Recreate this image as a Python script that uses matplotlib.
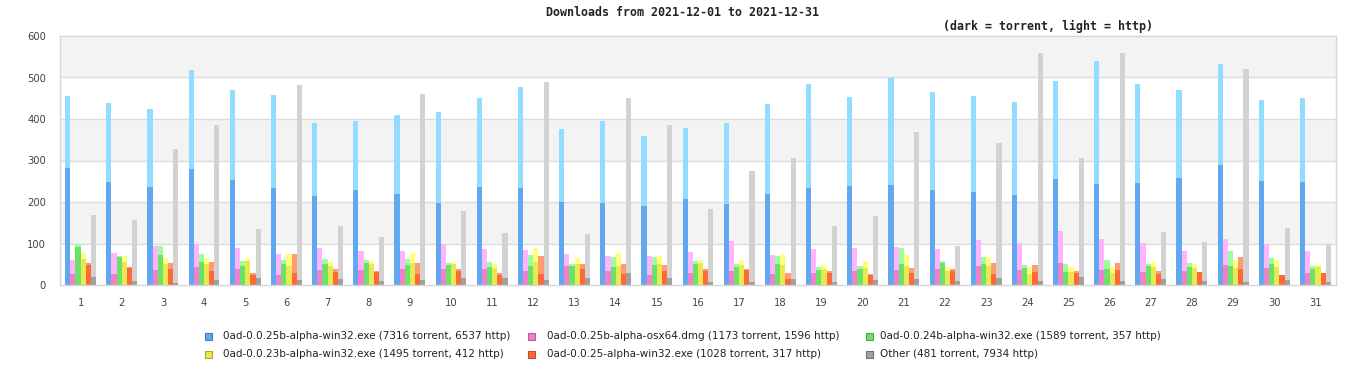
import matplotlib
matplotlib.use("Agg")
import matplotlib.pyplot as plt
from matplotlib.patches import Rectangle
import numpy as np

days = [str(d) for d in range(1, 32)]

series_names = [
    "0ad-0.0.25b-alpha-win32.exe (7316 torrent, 6537 http)",
    "0ad-0.0.25b-alpha-osx64.dmg (1173 torrent, 1596 http)",
    "0ad-0.0.24b-alpha-win32.exe (1589 torrent, 357 http)",
    "0ad-0.0.23b-alpha-win32.exe (1495 torrent, 412 http)",
    "0ad-0.0.25-alpha-win32.exe (1028 torrent, 317 http)",
    "Other (481 torrent, 7934 http)",
]

win25b_torrent = [282, 248, 236, 280, 253, 234, 214, 229, 219, 198, 236, 234, 200, 198, 190, 207,
                  195, 219, 234, 239, 241, 229, 224, 217, 255, 243, 246, 258, 289, 251, 248]
win25b_http = [173, 191, 188, 238, 217, 224, 176, 166, 191, 219, 215, 243, 176, 197, 169, 171,
               195, 217, 250, 214, 258, 236, 231, 224, 237, 297, 238, 212, 244, 195, 203]

osx25b_torrent = [27, 27, 36, 43, 39, 24, 36, 36, 39, 39, 39, 34, 46, 34, 24, 29,
                  34, 27, 29, 34, 36, 39, 46, 36, 53, 36, 31, 34, 48, 41, 29]
osx25b_http = [33, 50, 58, 56, 50, 51, 53, 46, 43, 61, 48, 50, 29, 36, 46, 51,
               72, 45, 58, 55, 56, 48, 62, 65, 77, 75, 70, 48, 63, 58, 53]

win24b_torrent = [92, 68, 72, 55, 46, 51, 51, 53, 48, 48, 43, 46, 46, 43, 48, 51,
                  43, 51, 36, 39, 51, 53, 51, 41, 31, 39, 46, 43, 46, 51, 39]
win24b_http = [8, 2, 22, 20, 12, 9, 12, 7, 15, 5, 12, 26, 5, 24, 19, 7,
               8, 19, 7, 7, 38, 5, 16, 7, 20, 21, 5, 10, 36, 14, 7]

win23b_torrent = [63, 55, 51, 51, 58, 46, 46, 51, 53, 51, 41, 55, 51, 46, 51, 53,
                  48, 48, 39, 41, 46, 34, 46, 27, 31, 29, 43, 41, 41, 43, 43]
win23b_http = [14, 15, 14, 14, 7, 29, 9, 7, 24, 4, 10, 34, 14, 31, 19, 7,
               12, 27, 9, 17, 26, 9, 21, 16, 12, 14, 12, 10, 19, 17, 5]

win25_torrent = [47, 42, 39, 34, 24, 29, 31, 31, 27, 34, 24, 27, 39, 27, 34, 34,
                 36, 14, 29, 24, 29, 34, 27, 31, 29, 36, 27, 31, 39, 24, 29]
win25_http = [6, 1, 14, 21, 5, 46, 8, 3, 26, 5, 5, 43, 12, 24, 14, 5,
              3, 15, 5, 3, 12, 5, 26, 17, 5, 17, 7, 0, 28, 0, 0]

other_torrent = [19, 10, 5, 12, 17, 12, 14, 10, 12, 17, 17, 12, 17, 29, 17, 7,
                 7, 14, 7, 12, 14, 10, 17, 10, 19, 10, 14, 10, 7, 12, 7]
other_http = [150, 147, 323, 374, 118, 470, 128, 106, 448, 161, 108, 477, 106, 422, 369, 176,
              268, 292, 135, 154, 355, 84, 325, 549, 287, 549, 114, 94, 513, 125, 92]

y_ticks = [0, 100, 200, 300, 400, 500, 600]

torrent = [win25b_torrent, osx25b_torrent, win24b_torrent, win23b_torrent, win25_torrent, other_torrent]
http = [win25b_http, osx25b_http, win24b_http, win23b_http, win25_http, other_http]

dark_colors = ["#62a8f0", "#f080c8", "#6ae26a", "#e8e850", "#ff6838", "#a0a0a0"]
light_colors = ["#92dcff", "#ffb4ff", "#9cff9c", "#ffff7c", "#ff9a72", "#d2d2d2"]
edge_colors = ["#4a7cb0", "#b0609a", "#4ca84c", "#a8a83a", "#c04e2a", "#707070"]

W, H = 1366, 380
fig = plt.figure(figsize=(W / 100, H / 100), dpi=100)
ax = fig.add_axes([60 / W, (H - 285) / H, (1336 - 60) / W, (285 - 36) / H])

# background bands
for lo in (100, 300, 500):
    ax.axhspan(lo, lo + 100, color="#f3f3f3", zorder=0, lw=0)
for t in y_ticks[1:-1]:
    ax.axhline(t, color="#dcdcdc", lw=1, zorder=0.5)

x = np.arange(len(days))
bw = 0.125
for k in range(6):
    pos = x + (k - 2.5) * bw
    ax.bar(pos, torrent[k], width=bw, color=dark_colors[k], lw=0, zorder=2)
    ax.bar(pos, http[k], width=bw, bottom=torrent[k], color=light_colors[k], lw=0, zorder=2)

ax.set_xlim(-0.5, len(days) - 0.5)
ax.set_ylim(0, 600)
ax.set_yticks(y_ticks)
ax.set_xticks(x)
ax.set_xticklabels(days)
ax.tick_params(axis="both", length=0, labelsize=7.2, colors="#444444")
ax.tick_params(axis="x", pad=9)
ax.tick_params(axis="y", pad=10)
for s in ax.spines.values():
    s.set_color("#d6d6d6")
    s.set_linewidth(1)

fig.text(683 / W, 1 - 13 / H, "Downloads from 2021-12-01 to 2021-12-31", ha="center", va="center",
         family="DejaVu Sans Mono", weight="bold", fontsize=8.4, color="#222222")
fig.text(943 / W, 1 - 26 / H, "(dark = torrent, light = http)", ha="left", va="center",
         family="DejaVu Sans Mono", weight="bold", fontsize=8.4, color="#222222")

# legend
marker_x = [205, 528, 866, 205, 528, 866]
text_x = [223, 547, 880, 223, 547, 880]
row_y = [336, 336, 336, 354, 354, 354]
for k in range(6):
    fig.patches.append(Rectangle((marker_x[k] / W, 1 - (row_y[k] + 3.5) / H), 7 / W, 7 / H,
                                 transform=fig.transFigure, facecolor=dark_colors[k],
                                 edgecolor=edge_colors[k], lw=0.8))
    fig.text(text_x[k] / W, 1 - row_y[k] / H, series_names[k], ha="left", va="center",
             fontsize=7.5, color="#222222")

fig.savefig("out.png", dpi=100)
